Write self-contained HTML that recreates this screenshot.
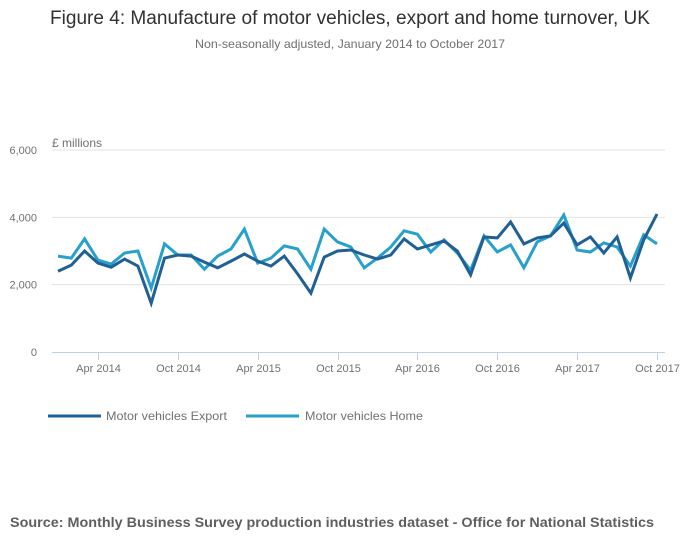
<!DOCTYPE html>
<html><head><meta charset="utf-8"><style>
body{margin:0;background:#fff;}
svg{display:block;font-family:"Liberation Sans",sans-serif;}
</style></head><body>
<svg id="chart" width="700" height="549" viewBox="0 0 700 549">
<text x="350" y="24" text-anchor="middle" font-size="19" fill="#323132" textLength="600" lengthAdjust="spacingAndGlyphs">Figure 4: Manufacture of motor vehicles, export and home turnover, UK</text>
<text x="350" y="48" text-anchor="middle" font-size="12" fill="#707071" textLength="310" lengthAdjust="spacingAndGlyphs">Non-seasonally adjusted, January 2014 to October 2017</text>
<text x="52" y="147" font-size="12" fill="#707071">£ millions</text>
<g id="grid"></g>
<g id="xaxis"></g>
<g id="series"></g>
<g>
<line x1="48" y1="416" x2="101" y2="416" stroke="#206095" stroke-width="3"/>
<text x="106" y="420" font-size="12" fill="#707071" textLength="121" lengthAdjust="spacingAndGlyphs">Motor vehicles Export</text>
<line x1="246" y1="416" x2="299" y2="416" stroke="#27a0cc" stroke-width="3"/>
<text x="305" y="420" font-size="12" fill="#707071" textLength="118" lengthAdjust="spacingAndGlyphs">Motor vehicles Home</text>
</g>
<text x="10" y="527" font-size="14" font-weight="bold" fill="#5f5f5f" textLength="644" lengthAdjust="spacingAndGlyphs">Source: Monthly Business Survey production industries dataset - Office for National Statistics</text>
</svg>
<script>
const yTicks=[0,2000,4000,6000];
const yTickLabels=["0","2,000","4,000","6,000"];
const xTickIdx=[3,9,15,21,27,33,39,45];
const xTickLabels=["Apr 2014","Oct 2014","Apr 2015","Oct 2015","Apr 2016","Oct 2016","Apr 2017","Oct 2017"];
const exportVals=[2400,2580,3000,2640,2520,2760,2550,1450,2790,2880,2850,2670,2500,2700,2910,2700,2550,2850,2320,1750,2820,3000,3030,2880,2760,2880,3360,3060,3180,3300,3000,2290,3420,3390,3860,3210,3390,3450,3830,3180,3420,2940,3420,2200,3330,4100];
const homeVals=[2850,2790,3360,2730,2610,2940,3000,1900,3210,2880,2880,2460,2850,3060,3650,2640,2790,3150,3060,2460,3650,3270,3120,2500,2790,3120,3600,3500,2970,3330,2940,2430,3450,2970,3180,2500,3270,3450,4070,3030,2970,3240,3120,2550,3480,3210];
const NS='http://www.w3.org/2000/svg';
const xS=i=>58+i*(657-58)/45;
const yS=v=>352-v*(202/6000);
function mk(t,a,p){const e=document.createElementNS(NS,t);for(const k in a)e.setAttribute(k,a[k]);p.appendChild(e);return e;}
const grid=document.getElementById('grid');
yTicks.forEach((v,i)=>{
 if(v>0){const l=mk('line',{x1:52,x2:665,y1:yS(v),y2:yS(v),stroke:'#e2e2e3','stroke-width':1},grid);
 
 }
 const t=mk('text',{x:37,y:yS(v)+4,'text-anchor':'end','font-size':11,fill:'#707071'},grid);
 t.textContent=yTickLabels[i];
 
 
});
const xa=document.getElementById('xaxis');
const ax=mk('line',{x1:52,x2:665,y1:352.5,y2:352.5,stroke:'#bcd0e6','stroke-width':1},xa);


xTickIdx.forEach((idx,i)=>{
 const x=Math.round(xS(idx))+0.5;
 const tk=mk('line',{x1:x,x2:x,y1:352,y2:360,stroke:'#bcd0e6','stroke-width':1},xa);
 
 
 const t=mk('text',{x:x,y:372,'text-anchor':'middle','font-size':11,fill:'#707071'},xa);
 t.textContent=xTickLabels[i];
 
 
});
const sg=document.getElementById('series');
function line(vals,col,name){
 const d=vals.map((v,i)=>(i?'L':'M')+xS(i).toFixed(1)+' '+yS(v).toFixed(1)).join(' ');
 const p=mk('path',{d:d,fill:'none',stroke:col,'stroke-width':3,'stroke-linejoin':'miter'},sg);
 
 
}
line(homeVals,'#27a0cc','home-line');
line(exportVals,'#206095','export-line');
</script>
</body></html>
